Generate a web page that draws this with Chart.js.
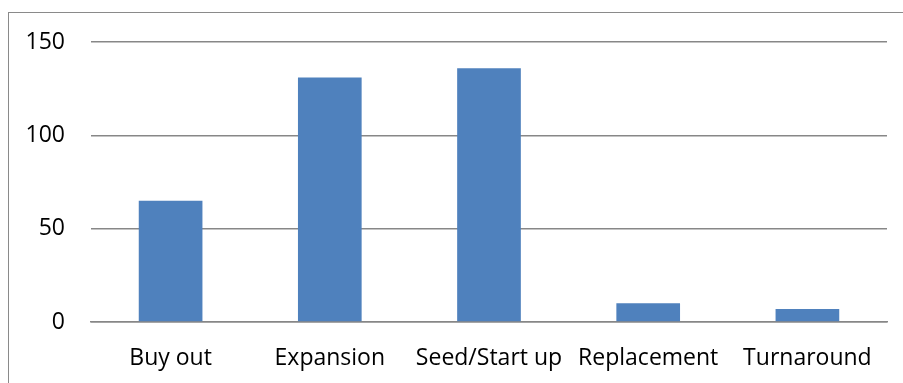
<!DOCTYPE html>
<html>
<head>
<meta charset="utf-8">
<script src="https://cdn.jsdelivr.net/npm/chart.js@4/dist/chart.umd.min.js"></script>
<style>
  html, body { margin: 0; padding: 0; background: #fff; }
  #wrap { position: relative; width: 903px; height: 383px; overflow: hidden; }
  #frame { position: absolute; left: 8px; top: 12px; width: 900px; height: 400px;
           border: 1px solid #8a8a8a; box-sizing: border-box; }
  #chart { position: absolute; left: 0; top: 0; }
</style>
</head>
<body>
<div id="wrap">
  <div id="frame"></div>
  <canvas id="chart" width="903" height="383"></canvas>
</div>
<script>
// Deals by investment stage
const stages = ['Buy out', 'Expansion', 'Seed/Start up', 'Replacement', 'Turnaround'];
const counts = [65, 131, 136, 10, 7];
const yTicks = [0, 50, 100, 150];

const gridColor = '#878787';
const fontFamily = '"Open Sans", sans-serif';

new Chart(document.getElementById('chart'), {
    type: 'bar',
    data: {
        labels: stages,
        datasets: [{
            data: counts,
            backgroundColor: '#4F81BD',
            borderWidth: 0,
            barPercentage: 0.4,
            categoryPercentage: 1
        }]
    },
    options: {
        responsive: false,
        animation: false,
        layout: { padding: { top: 42, right: 16, left: 0, bottom: 0 } },
        plugins: { legend: { display: false }, tooltip: { enabled: false } },
        scales: {
            x: {
                grid: { display: false },
                border: { display: true, color: gridColor, width: 1.5 },
                ticks: {
                    color: '#000',
                    padding: 15,
                    maxRotation: 0,
                    font: { family: fontFamily, size: 23 }
                },
                afterFit: s => { s.height = 61; }
            },
            y: {
                min: 0,
                max: 150,
                afterBuildTicks: s => { s.ticks = yTicks.map(v => ({ value: v })); },
                grid: { color: gridColor, lineWidth: 1.5, drawTicks: false },
                border: { display: false },
                ticks: {
                    color: '#000',
                    padding: 26,
                    font: { family: fontFamily, size: 23 }
                },
                afterFit: s => { s.width = 91; }
            }
        }
    }
});
</script>
</body>
</html>
